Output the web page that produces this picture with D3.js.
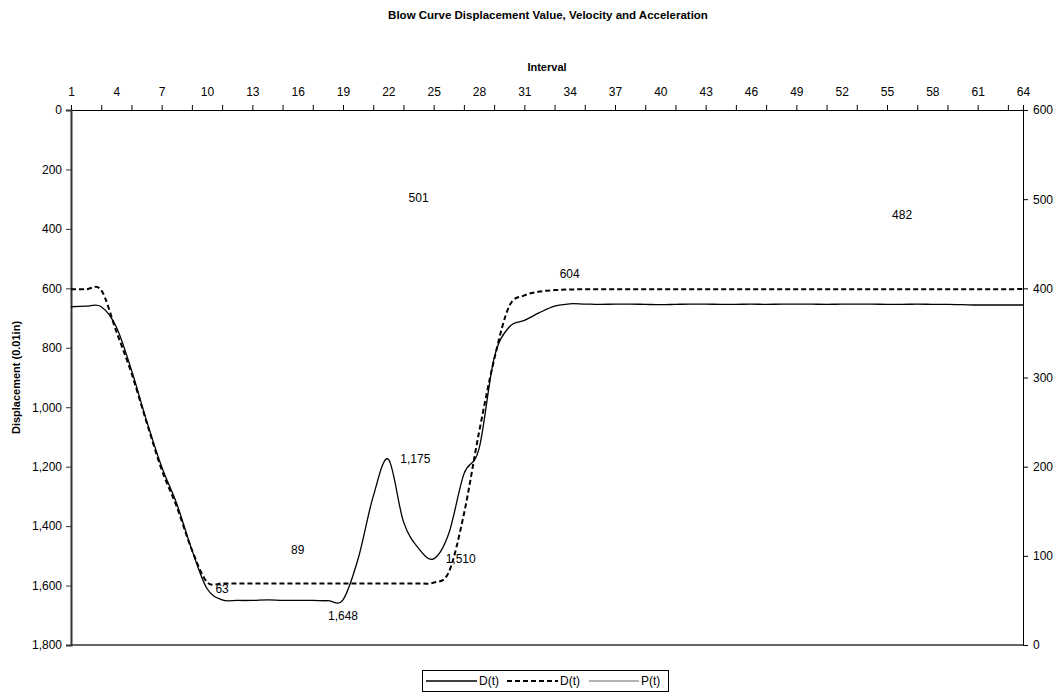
<!DOCTYPE html>
<html>
<head>
<meta charset="utf-8">
<script src="https://cdn.jsdelivr.net/npm/d3@7"></script>
<style>
  html, body { margin: 0; padding: 0; background: #fff; }
  svg { display: block; font-family: "Liberation Sans", Arial, sans-serif; }
</style>
</head>
<body>
<svg id="chart" width="1060" height="693"></svg>
<script>
// Blow interval numbers (category axis)
const intervals = [1,2,3,4,5,6,7,8,9,10,11,12,13,14,15,16,17,18,19,20,21,22,23,24,25,26,27,28,29,30,31,32,
  33,34,35,36,37,38,39,40,41,42,43,44,45,46,47,48,49,50,51,52,53,54,55,56,57,58,59,60,61,62,63,64];

// Measured displacement D(t), 0.01 in
const dMeasured = [662,660,662,730,875,1045,1200,1325,1480,1610,1648,1650,1650,1648,1650,1650,
  1650,1651,1648,1510,1300,1175,1385,1475,1510,1425,1225,1140,835,730,708,682,
  660,652,653,654,653,653,654,655,654,653,653,654,654,653,654,653,
  653,653,654,653,653,653,654,654,653,654,654,655,656,656,656,656];

// Reference displacement D(t), 0.01 in
const dReference = [603,603,606,745,885,1050,1210,1335,1480,1588,1593,1593,1593,1593,1593,1593,
  1593,1593,1593,1593,1593,1593,1593,1593,1590,1555,1360,1085,840,660,624,611,
  606,604,603,603,603,603,603,603,603,603,603,603,603,603,603,603,
  603,603,603,603,603,603,603,603,603,603,603,603,603,603,603,602];

// Labelled P(t) points (interval, value on the secondary axis)
const pIntervals = [11, 16, 24, 56];
const pValues = [63, 89, 501, 482];
const pPlacement = ["center", "above", "center", "center"];

// Labelled displacement points
const dLabelSeries = ["measured", "measured", "measured", "reference"];
const dLabelIntervals = [19, 22, 25, 34];
const dLabelPlacement = ["below", "right", "right", "above"];

// Axis tick values
const xTickMarks = [1,3,5,7,9,11,13,15,17,19,21,23,25,27,29,31,33,35,37,39,41,43,45,47,49,51,53,55,57,59,61,63];
const xTickLabels = [1,4,7,10,13,16,19,22,25,28,31,34,37,40,43,46,49,52,55,58,61,64];
const leftTicks = [0,200,400,600,800,1000,1200,1400,1600,1800];
const rightTicks = [0,100,200,300,400,500,600];

const legendNames = ["D(t)", "D(t)", "P(t)"];

const svg = d3.select("#chart");
const plot = { left: 71, right: 1023, top: 110, bottom: 645 };

const x = d3.scaleLinear().domain([1, 64]).range([plot.left, plot.right]);
const yL = d3.scaleLinear().domain([0, 1800]).range([plot.top, plot.bottom]);
const yR = d3.scaleLinear().domain([0, 600]).range([plot.bottom, plot.top]);
const fmt = d3.format(",");

// Title
svg.append("text")
  .attr("x", 548).attr("y", 19)
  .attr("text-anchor", "middle")
  .attr("font-size", 11.5).attr("font-weight", "bold")
  .text("Blow Curve Displacement Value, Velocity and Acceleration");

// Top category axis: tick marks every 2 intervals, labels every 3
const xMarks = svg.append("g").attr("transform", `translate(0,${plot.top})`)
  .call(d3.axisTop(x).tickValues(xTickMarks).tickSize(5).tickFormat(""));
const xLabels = svg.append("g").attr("transform", `translate(0,${plot.top})`)
  .call(d3.axisTop(x).tickValues(xTickLabels).tickSize(0).tickPadding(14).tickFormat(d3.format("d")));
[xMarks, xLabels].forEach(g => {
  g.select(".domain").attr("stroke", "#000").attr("stroke-width", 1);
  g.selectAll(".tick line").attr("stroke", "#000");
  g.selectAll("text").attr("font-size", 12).attr("fill", "#000")
    .attr("font-family", "Liberation Sans, Arial, sans-serif");
});
xLabels.select(".domain").remove();

svg.append("text")
  .attr("x", (plot.left + plot.right) / 2).attr("y", 71)
  .attr("text-anchor", "middle")
  .attr("font-size", 11).attr("font-weight", "bold")
  .text("Interval");

// Bottom border of the plot area
svg.append("line")
  .attr("x1", plot.left).attr("x2", plot.right)
  .attr("y1", plot.bottom).attr("y2", plot.bottom)
  .attr("stroke", "#333").attr("stroke-width", 1.5);

// Left displacement axis
const gL = svg.append("g").attr("transform", `translate(${plot.left},0)`)
  .call(d3.axisLeft(yL).tickValues(leftTicks).tickSize(5).tickPadding(4).tickFormat(fmt));
gL.select(".domain").attr("stroke", "#333").attr("stroke-width", 2);
gL.selectAll(".tick line").attr("stroke", "#333");
gL.selectAll("text").attr("font-size", 12).attr("fill", "#000")
  .attr("font-family", "Liberation Sans, Arial, sans-serif");

svg.append("text")
  .attr("transform", `translate(20,${(plot.top + plot.bottom) / 2}) rotate(-90)`)
  .attr("text-anchor", "middle")
  .attr("font-size", 11).attr("font-weight", "bold")
  .text("Displacement (0.01in)");

// Right secondary axis
const gR = svg.append("g").attr("transform", `translate(${plot.right},0)`)
  .call(d3.axisRight(yR).tickValues(rightTicks).tickSize(5).tickPadding(5));
gR.select(".domain").attr("stroke", "#000").attr("stroke-width", 1);
gR.selectAll(".tick line").attr("stroke", "#000");
gR.selectAll("text").attr("font-size", 12).attr("fill", "#000")
  .attr("font-family", "Liberation Sans, Arial, sans-serif");

// Displacement curves (smoothed)
const line = d3.line()
  .x((d, i) => x(intervals[i]))
  .y(d => yL(d))
  .curve(d3.curveCardinal.tension(0));

svg.append("path")
  .datum(dReference)
  .attr("d", line)
  .attr("fill", "none")
  .attr("stroke", "#000").attr("stroke-width", 2)
  .attr("stroke-dasharray", "5,3");

svg.append("path")
  .datum(dMeasured)
  .attr("d", line)
  .attr("fill", "none")
  .attr("stroke", "#000").attr("stroke-width", 1.3);

// Data labels
function place(px, py, mode) {
  if (mode === "right") return { x: px + 12, y: py, anchor: "start" };
  if (mode === "below") return { x: px, y: py + 16, anchor: "middle" };
  if (mode === "above") return { x: px, y: py - 16, anchor: "middle" };
  return { x: px, y: py, anchor: "middle" };
}

const labelLayer = svg.append("g")
  .attr("font-size", 12).attr("fill", "#000");

dLabelIntervals.forEach((iv, k) => {
  const series = dLabelSeries[k] === "measured" ? dMeasured : dReference;
  const v = series[intervals.indexOf(iv)];
  const p = place(x(iv), yL(v), dLabelPlacement[k]);
  labelLayer.append("text")
    .attr("x", p.x).attr("y", p.y).attr("dy", "0.35em")
    .attr("text-anchor", p.anchor)
    .text(fmt(v));
});

pIntervals.forEach((iv, k) => {
  const v = pValues[k];
  const p = place(x(iv), yR(v), pPlacement[k]);
  labelLayer.append("text")
    .attr("x", p.x).attr("y", p.y).attr("dy", "0.35em")
    .attr("text-anchor", p.anchor)
    .text(fmt(v));
});

// Legend
const lg = svg.append("g");
lg.append("rect")
  .attr("x", 422.5).attr("y", 670.5).attr("width", 246).attr("height", 21)
  .attr("fill", "#fff").attr("stroke", "#000").attr("stroke-width", 1);
const legendStyles = [
  { x0: 426, x1: 477, dash: null, color: "#000", width: 1.3 },
  { x0: 507, x1: 558, dash: "5,3", color: "#000", width: 2 },
  { x0: 589, x1: 639, dash: null, color: "#b4b4b4", width: 2 }
];
legendNames.forEach((name, k) => {
  const s = legendStyles[k];
  lg.append("line")
    .attr("x1", s.x0).attr("x2", s.x1).attr("y1", 681).attr("y2", 681)
    .attr("stroke", s.color).attr("stroke-width", s.width)
    .attr("stroke-dasharray", s.dash);
  lg.append("text")
    .attr("x", s.x1 + 2).attr("y", 681).attr("dy", "0.35em")
    .attr("font-size", 12)
    .text(name);
});
</script>
</body>
</html>
